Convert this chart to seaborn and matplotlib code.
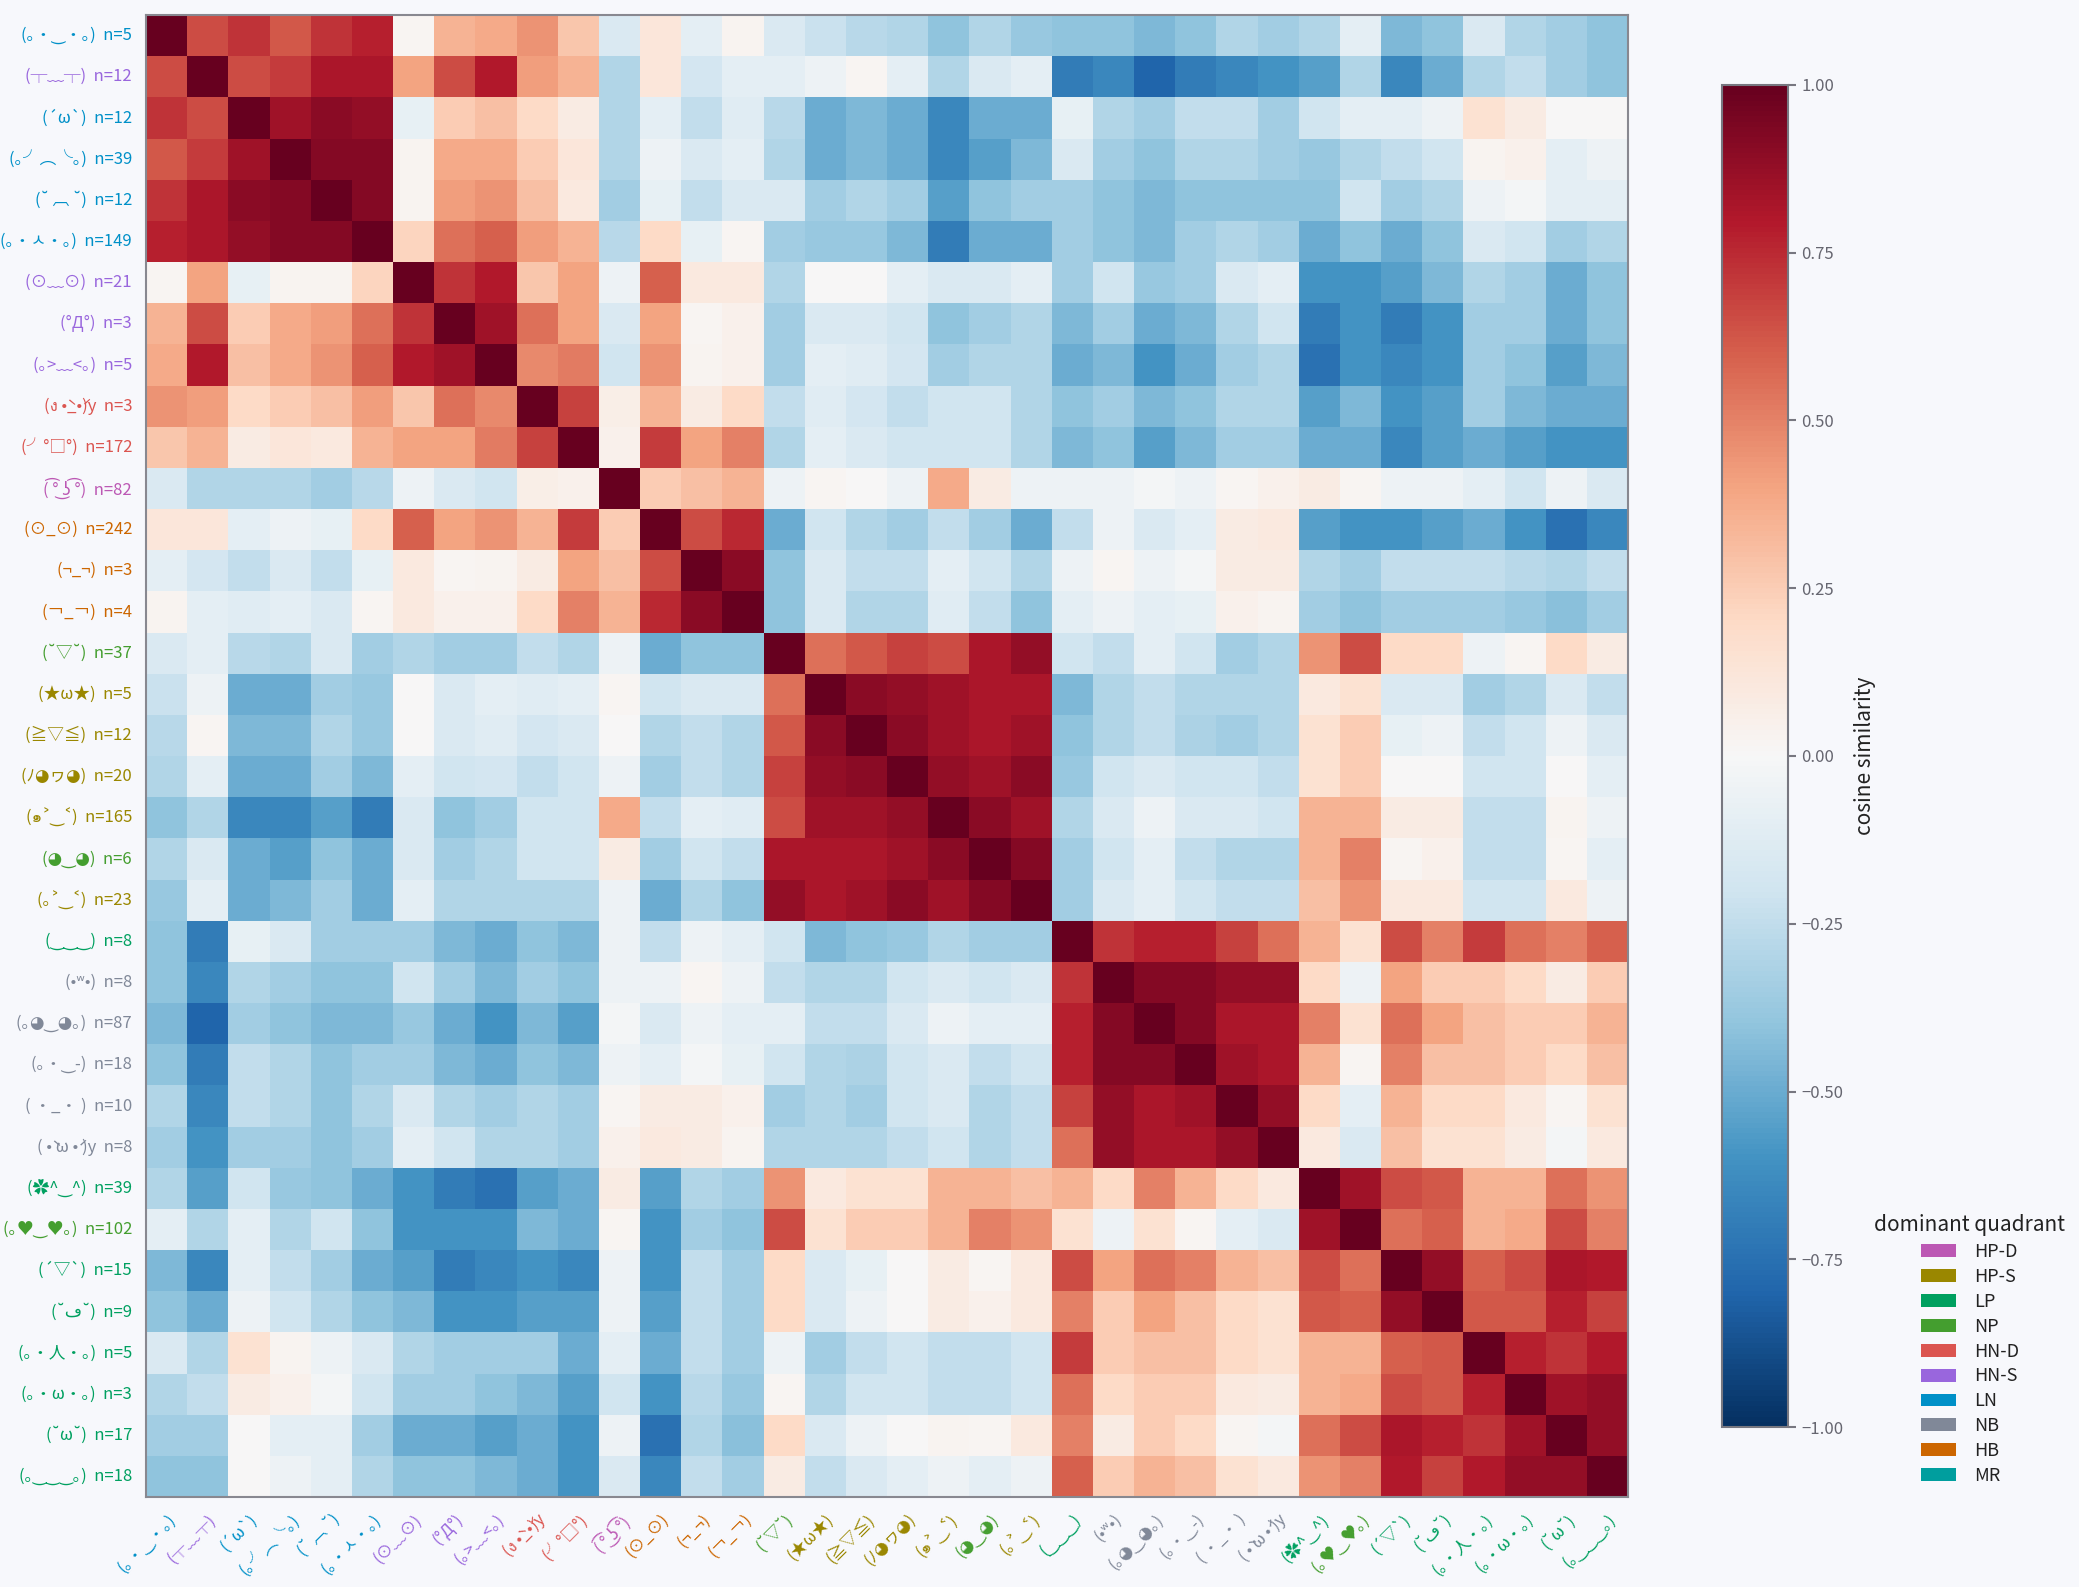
import numpy as np
import pandas as pd
import matplotlib
matplotlib.use("Agg")
import matplotlib.pyplot as plt
from matplotlib import font_manager, ft2font
from matplotlib.patches import Patch
import seaborn as sns

# ---------------- data ----------------
kaomoji = ["(｡・‿・｡)", "(┬﹏┬)", "(´ω`)", "(｡╯︵╰｡)", "(˘ ︹ ˘)", "(｡・ㅅ・｡)",
           "(⊙﹏⊙)", "(°Д°)", "(｡>﹏<｡)", "(ง •̀_•́)y", "(╯°□°)", "( ͡° ͜ʖ ͡°)",
           "(⊙_⊙)", "(¬_¬)", "(￢_￢)", "(˘▽˘)", "(★ω★)", "(≧▽≦)",
           "(ﾉ◕ヮ◕)", "(๑˃‿˂)", "(◕‿◕)", "(｡˃‿˂)", "(‿‿‿)", "(•ʷ•)",
           "(｡◕‿◕｡)", "(｡・‿-)", "( ・_・ )", "( •̀ ω •́ )y", "(✿^‿^)", "(｡♥‿♥｡)",
           "(´▽`)", "(˘ڡ˘)", "(｡・人・｡)", "(｡・ω・｡)", "(˘ω˘)", "(｡‿‿‿｡)"]
counts = [5, 12, 12, 39, 12, 149, 21, 3, 5, 3, 172, 82, 242, 3, 4, 37, 5, 12,
          20, 165, 6, 23, 8, 8, 87, 18, 10, 8, 39, 102, 15, 9, 5, 3, 17, 18]
quadrant = ["LN", "HN-S", "LN", "LN", "LN", "LN", "HN-S", "HN-S", "HN-S", "HN-D",
            "HN-D", "HP-D", "HB", "HB", "HB", "NP", "HP-S", "HP-S", "HP-S", "HP-S",
            "NP", "HP-S", "LP", "NB", "NB", "NB", "NB", "NB", "LP", "NP",
            "LP", "LP", "LP", "LP", "LP", "LP"]
legend_labels = ["HP-D", "HP-S", "LP", "NP", "HN-D", "HN-S", "LN", "NB", "HB", "MR"]
legend_colors = ["#BC58B4", "#9A8700", "#00A060", "#449E2F", "#DB5550",
                 "#9966DD", "#0090C8", "#808898", "#CC6600", "#009E9E"]

# lower triangle of the cosine-similarity matrix (row i: columns 0..i-1)
row_02 = [0.65]
row_03 = [0.72, 0.65]
row_04 = [0.62, 0.70, 0.85]
row_05 = [0.72, 0.82, 0.90, 0.92]
row_06 = [0.78, 0.82, 0.88, 0.92, 0.92]
row_07 = [0.02, 0.40, -0.08, 0.03, 0.03, 0.22]
row_08 = [0.35, 0.65, 0.25, 0.38, 0.42, 0.55, 0.72]
row_09 = [0.38, 0.80, 0.30, 0.38, 0.45, 0.60, 0.80, 0.85]
row_10 = [0.45, 0.42, 0.20, 0.25, 0.30, 0.42, 0.28, 0.55, 0.48]
row_11 = [0.28, 0.35, 0.08, 0.12, 0.10, 0.35, 0.40, 0.40, 0.52, 0.68]
row_12 = [-0.15, -0.30, -0.30, -0.30, -0.35, -0.28, -0.05, -0.15, -0.20, 0.07, 0.05]
row_13 = [0.12, 0.12, -0.10, -0.05, -0.08, 0.20, 0.60, 0.40, 0.45, 0.35, 0.70, 0.25]
row_14 = [-0.10, -0.18, -0.25, -0.15, -0.25, -0.08, 0.10, 0.02, 0.03, 0.08, 0.40, 0.30, 0.65]
row_15 = [0.03, -0.10, -0.12, -0.10, -0.15, 0.02, 0.10, 0.05, 0.05, 0.20, 0.50, 0.35, 0.75, 0.90]
row_16 = [-0.15, -0.10, -0.28, -0.30, -0.15, -0.35, -0.30, -0.35, -0.35, -0.25, -0.30, -0.05,
          -0.50, -0.40, -0.40]
row_17 = [-0.22, -0.05, -0.50, -0.50, -0.35, -0.38, 0.00, -0.15, -0.10, -0.12, -0.10, 0.02,
          -0.20, -0.15, -0.15, 0.55]
row_18 = [-0.28, 0.02, -0.45, -0.45, -0.30, -0.38, 0.00, -0.15, -0.12, -0.18, -0.15, 0.00,
          -0.30, -0.25, -0.30, 0.62, 0.90]
row_19 = [-0.30, -0.10, -0.50, -0.50, -0.35, -0.45, -0.10, -0.20, -0.18, -0.25, -0.20, -0.05,
          -0.35, -0.25, -0.30, 0.68, 0.88, 0.90]
row_20 = [-0.40, -0.30, -0.65, -0.65, -0.55, -0.70, -0.15, -0.40, -0.35, -0.20, -0.20, 0.38,
          -0.25, -0.10, -0.12, 0.65, 0.85, 0.85, 0.88]
row_21 = [-0.30, -0.15, -0.50, -0.55, -0.40, -0.50, -0.15, -0.35, -0.30, -0.20, -0.20, 0.08,
          -0.35, -0.20, -0.25, 0.82, 0.82, 0.82, 0.85, 0.90]
row_22 = [-0.38, -0.10, -0.50, -0.45, -0.35, -0.50, -0.10, -0.30, -0.30, -0.30, -0.30, -0.05,
          -0.50, -0.30, -0.40, 0.88, 0.82, 0.85, 0.90, 0.85, 0.92]
row_23 = [-0.40, -0.70, -0.08, -0.15, -0.35, -0.35, -0.35, -0.45, -0.50, -0.40, -0.45, -0.05,
          -0.25, -0.05, -0.10, -0.20, -0.45, -0.40, -0.38, -0.30, -0.35, -0.35]
row_24 = [-0.40, -0.65, -0.30, -0.35, -0.40, -0.40, -0.20, -0.35, -0.45, -0.35, -0.40, -0.05,
          -0.05, 0.02, -0.05, -0.25, -0.30, -0.30, -0.20, -0.15, -0.20, -0.15, 0.72]
row_25 = [-0.45, -0.80, -0.35, -0.40, -0.45, -0.45, -0.38, -0.50, -0.60, -0.45, -0.55, -0.02,
          -0.15, -0.05, -0.10, -0.10, -0.25, -0.25, -0.15, -0.05, -0.10, -0.10, 0.78, 0.92]
row_26 = [-0.40, -0.70, -0.25, -0.30, -0.40, -0.35, -0.35, -0.45, -0.50, -0.40, -0.45, -0.05,
          -0.10, -0.02, -0.08, -0.20, -0.30, -0.32, -0.20, -0.15, -0.25, -0.20, 0.78, 0.92, 0.92]
row_27 = [-0.30, -0.65, -0.25, -0.30, -0.40, -0.30, -0.15, -0.30, -0.35, -0.30, -0.35, 0.02,
          0.08, 0.08, 0.05, -0.35, -0.30, -0.35, -0.20, -0.15, -0.30, -0.25, 0.68, 0.88, 0.82, 0.85]
row_28 = [-0.35, -0.60, -0.35, -0.35, -0.40, -0.35, -0.10, -0.20, -0.30, -0.30, -0.35, 0.05,
          0.10, 0.08, 0.03, -0.30, -0.30, -0.30, -0.25, -0.20, -0.30, -0.25, 0.55, 0.88, 0.82,
          0.82, 0.88]
row_29 = [-0.30, -0.55, -0.20, -0.38, -0.40, -0.50, -0.60, -0.70, -0.75, -0.55, -0.50, 0.08,
          -0.55, -0.30, -0.35, 0.45, 0.10, 0.15, 0.15, 0.35, 0.35, 0.30, 0.35, 0.20, 0.50,
          0.35, 0.20, 0.10]
row_30 = [-0.10, -0.30, -0.10, -0.30, -0.20, -0.40, -0.60, -0.60, -0.60, -0.45, -0.50, 0.02,
          -0.60, -0.35, -0.40, 0.65, 0.15, 0.25, 0.25, 0.35, 0.50, 0.45, 0.15, -0.05, 0.15,
          0.02, -0.10, -0.15, 0.85]
row_31 = [-0.45, -0.65, -0.10, -0.25, -0.35, -0.50, -0.55, -0.70, -0.65, -0.60, -0.65, -0.05,
          -0.60, -0.25, -0.35, 0.20, -0.15, -0.08, 0.00, 0.08, 0.02, 0.10, 0.65, 0.40, 0.55,
          0.50, 0.35, 0.30, 0.65, 0.55]
row_32 = [-0.40, -0.50, -0.05, -0.20, -0.30, -0.40, -0.45, -0.60, -0.60, -0.55, -0.55, -0.05,
          -0.55, -0.25, -0.35, 0.20, -0.15, -0.05, 0.00, 0.08, 0.05, 0.10, 0.50, 0.25, 0.40,
          0.30, 0.20, 0.15, 0.62, 0.60, 0.88]
row_33 = [-0.15, -0.30, 0.15, 0.03, -0.05, -0.15, -0.30, -0.35, -0.35, -0.35, -0.50, -0.10,
          -0.50, -0.25, -0.35, -0.05, -0.35, -0.25, -0.20, -0.25, -0.25, -0.20, 0.70, 0.25, 0.30,
          0.30, 0.20, 0.15, 0.35, 0.35, 0.60, 0.62]
row_34 = [-0.30, -0.25, 0.08, 0.05, -0.02, -0.20, -0.35, -0.35, -0.40, -0.45, -0.55, -0.20,
          -0.60, -0.28, -0.38, 0.02, -0.30, -0.20, -0.20, -0.25, -0.25, -0.20, 0.55, 0.20, 0.25,
          0.25, 0.10, 0.08, 0.35, 0.38, 0.65, 0.62, 0.78]
row_35 = [-0.35, -0.35, 0.00, -0.10, -0.10, -0.35, -0.50, -0.50, -0.55, -0.50, -0.60, -0.05,
          -0.75, -0.30, -0.42, 0.20, -0.15, -0.05, 0.00, 0.03, 0.02, 0.10, 0.50, 0.08, 0.25,
          0.20, 0.02, -0.02, 0.55, 0.65, 0.82, 0.78, 0.72, 0.85]
row_36 = [-0.40, -0.40, 0.00, -0.05, -0.10, -0.30, -0.40, -0.40, -0.45, -0.50, -0.60, -0.15,
          -0.65, -0.25, -0.35, 0.08, -0.25, -0.15, -0.10, -0.05, -0.10, -0.05, 0.60, 0.25, 0.35,
          0.30, 0.15, 0.10, 0.45, 0.50, 0.80, 0.68, 0.80, 0.88, 0.88]

lower_rows = [[], row_02, row_03, row_04, row_05, row_06, row_07, row_08, row_09, row_10,
              row_11, row_12, row_13, row_14, row_15, row_16, row_17, row_18, row_19, row_20,
              row_21, row_22, row_23, row_24, row_25, row_26, row_27, row_28, row_29, row_30,
              row_31, row_32, row_33, row_34, row_35, row_36]

n = len(kaomoji)
mat = np.eye(n)
for i, r in enumerate(lower_rows):
    for j, v in enumerate(r):
        mat[i, j] = v
        mat[j, i] = v

# ---------------- fonts ----------------
families = ["Noto Sans CJK JP", "DejaVu Sans"]


def find_family(codepoint):
    for f in font_manager.fontManager.ttflist:
        try:
            if codepoint in ft2font.FT2Font(f.fname).get_charmap():
                return f.name
        except Exception:
            continue
    return None


# Thai characters: use any installed family that covers them; otherwise a look-alike
lookalike = {"ง": "ϑ", "๑": "๑"}
for ch, alt in [("ง", "ϑ"), ("๑", "໑")]:
    fam = find_family(ord(ch))
    if fam is not None:
        if fam not in families:
            families.append(fam)
    else:
        alt_fam = find_family(ord(alt))
        use = alt if alt_fam is not None else "@"
        if alt_fam is not None and alt_fam not in families:
            families.append(alt_fam)
        kaomoji = [k.replace(ch, use) for k in kaomoji]

ylabels = [f"{k}  n={c}" for k, c in zip(kaomoji, counts)]
df = pd.DataFrame(mat, index=ylabels, columns=kaomoji)
qcolor = dict(zip(legend_labels, legend_colors))

# ---------------- style ----------------
BG = "#F7F8FC"
sns.set_theme(style="white")
plt.rcParams["font.family"] = families
plt.rcParams["figure.facecolor"] = BG
plt.rcParams["axes.facecolor"] = BG
plt.rcParams["savefig.facecolor"] = BG

W, H = 2079, 1587
fig = plt.figure(figsize=(W / 100, H / 100), dpi=100)
ax = fig.add_axes([146 / W, (H - 1497) / H, 1482 / W, 1482 / H])
cax = fig.add_axes([1722 / W, (H - 1427) / H, 66 / W, 1342 / H])

sns.heatmap(df, ax=ax, cbar_ax=cax, cmap="RdBu_r", vmin=-1, vmax=1,
            xticklabels=True, yticklabels=True,
            cbar_kws={"ticks": [-1, -0.75, -0.5, -0.25, 0, 0.25, 0.5, 0.75, 1]})

SPINE = "#888890"
for s in ax.spines.values():
    s.set_visible(True)
    s.set_color(SPINE)
    s.set_linewidth(1.5)

ax.tick_params(axis="both", length=6, width=1.5, color=SPINE, pad=4)
ax.tick_params(axis="y", labelsize=12, rotation=0)
ax.tick_params(axis="x", labelsize=12)
for lab, q in zip(ax.get_yticklabels(), quadrant):
    lab.set_color(qcolor[q])
for lab, q in zip(ax.get_xticklabels(), quadrant):
    lab.set_color(qcolor[q])
    lab.set_rotation(45)
    lab.set_ha("right")
    lab.set_rotation_mode("anchor")
ax.set_xlabel("")
ax.set_ylabel("")

# colorbar
cbar = ax.collections[0].colorbar
cbar.outline.set_edgecolor("#777780")
cbar.outline.set_linewidth(1.5)
cax.tick_params(length=6, width=1.5, color="#777780", labelsize=12, labelcolor="#666670")
cax.set_yticklabels(["−1.00", "−0.75", "−0.50", "−0.25", "0.00", "0.25", "0.50", "0.75", "1.00"])
cbar.set_label("cosine similarity", fontsize=15, color="#222222", labelpad=8)

# legend
handles = [Patch(facecolor=c, edgecolor="none", label=l) for l, c in zip(legend_labels, legend_colors)]
leg = fig.legend(handles=handles, title="dominant quadrant", loc="upper left",
                 bbox_to_anchor=(1858 / W, 1 - 1198 / H), frameon=False,
                 fontsize=13, title_fontsize=15, handlelength=1.95, handleheight=0.72,
                 labelspacing=0.38, handletextpad=1.0)
leg._legend_box.align = "center"
for t in leg.get_texts():
    t.set_color("#222222")
leg.get_title().set_color("#222222")

fig.savefig("out.png", dpi=100, facecolor=BG)
